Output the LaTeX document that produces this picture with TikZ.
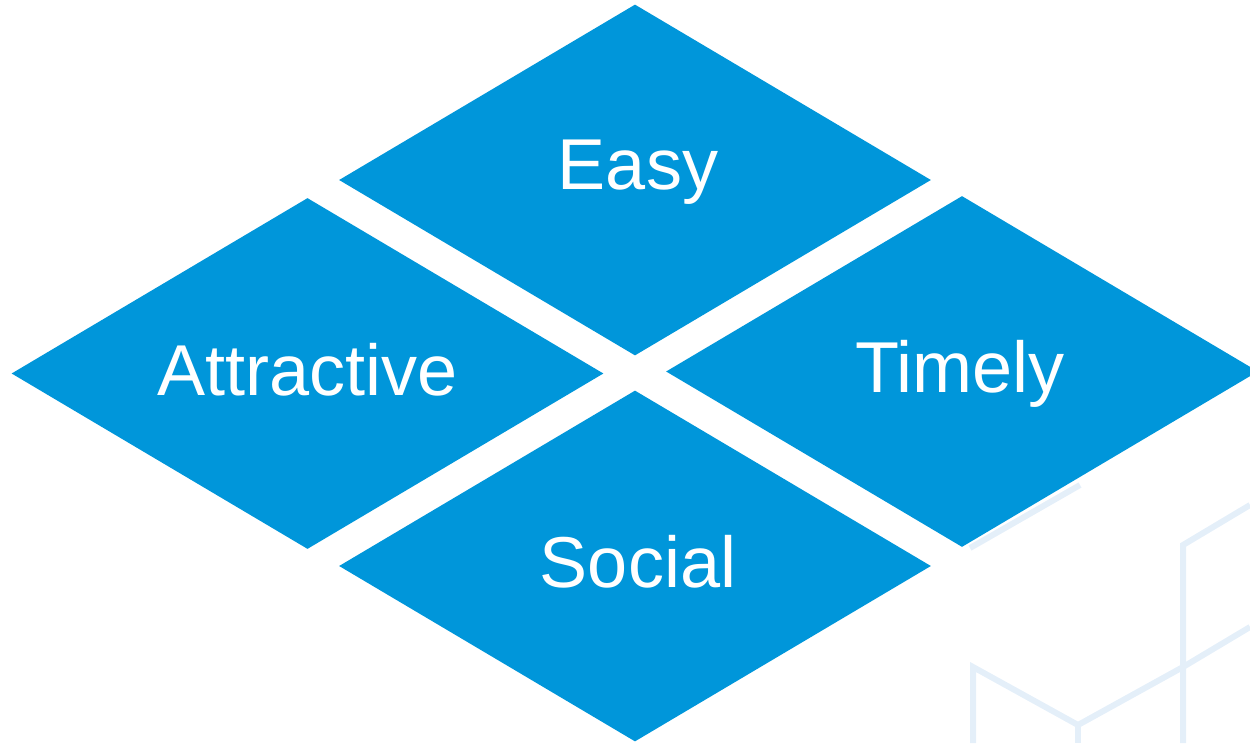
\documentclass[tikz,border=0pt]{standalone}
\usepackage{fontspec}
\setmainfont{Liberation Sans}
\usetikzlibrary{shapes.geometric}

\definecolor{petalblue}{RGB}{0,150,218}
\definecolor{faintblue}{RGB}{228,239,249}

\begin{document}
\begin{tikzpicture}[
    petal/.style={diamond, fill=petalblue, inner sep=0pt, shape aspect=1.69,
      minimum width=11.84cm, minimum height=7.02cm},
    word/.style={anchor=base, text=white, inner sep=0pt,
      font=\fontsize{41}{49}\selectfont},
    faint/.style={draw=faintblue, line width=3.4pt}
  ]

  \useasboundingbox (0,0) rectangle (25,14.86);

  % faint cube in the background
  \coordinate (P1) at (19.40,3.90);
  \coordinate (P2) at (21.60,5.16);
  \coordinate (Q1) at (23.66,3.96);
  \coordinate (Q2) at (23.66,1.52);
  \coordinate (Q3) at (21.56,0.36);
  \coordinate (Q4) at (19.46,1.52);
  \draw[faint] (P1) -- (P2);
  \draw[faint] (25,4.76) -- (Q1) -- (23.66,0);
  \draw[faint] (25,2.32) -- (Q2) -- (Q3) -- (Q4) -- (19.46,0);
  \draw[faint] (Q3) -- (21.56,0);

  % draw diamonds
  \node[petal] (easy) at (12.70,11.26) {};
  \node[petal] (attractive) at (6.15,7.39) {};
  \node[petal] (timely) at (19.24,7.43) {};
  \node[petal] (social) at (12.70,3.54) {};

  % labels
  \node[word] (easyText) at ([xshift=0.06cm,yshift=-0.20cm]easy.center) {Easy};
  \node[word] (attractiveText) at ([yshift=-0.44cm]attractive.center) {Attractive};
  \node[word] (timelyText) at ([xshift=-0.04cm,yshift=-0.42cm]timely.center) {Timely};
  \node[word] (socialText) at ([xshift=0.06cm,yshift=-0.42cm]social.center) {Social};

\end{tikzpicture}
\end{document}
